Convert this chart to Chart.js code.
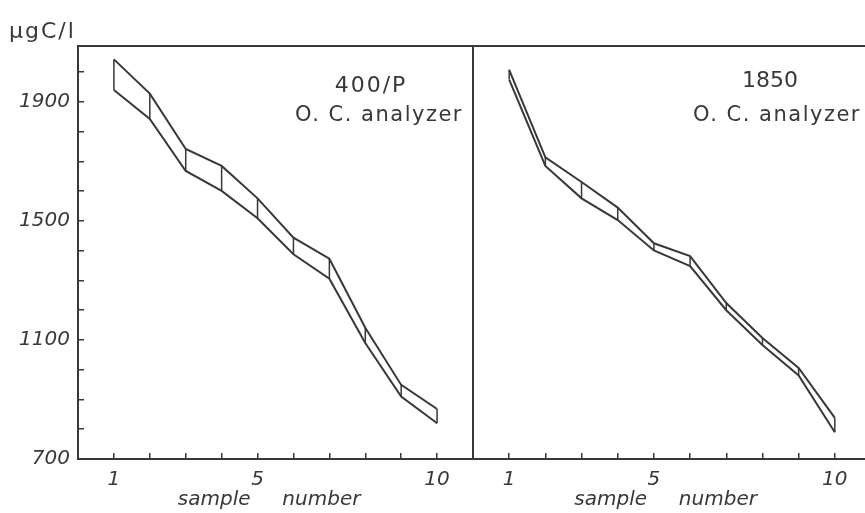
<!DOCTYPE html>
<html>
<head>
<meta charset="utf-8">
<script src="https://cdn.jsdelivr.net/npm/chart.js@4.4.1/dist/chart.umd.min.js"></script>
<style>
  html, body { margin: 0; padding: 0; background: #fff; overflow: hidden; width: 865px; height: 513px; }
  canvas { position: absolute; top: 0; }
  #left { left: 0; }
  #right { left: 463px; }
</style>
</head>
<body>
<canvas id="left" width="475" height="513"></canvas>
<canvas id="right" width="410" height="513"></canvas>
<script>
// sample numbers on the x axis
const samples = [1, 2, 3, 4, 5, 6, 7, 8, 9, 10];

// 400/P O.C. analyzer band (µgC/l)
const leftUpper = [2043, 1928, 1742, 1685, 1576, 1444, 1373, 1141, 949, 868];
const leftLower = [1940, 1843, 1668, 1601, 1509, 1388, 1306, 1090, 910, 820];

// 1850 O.C. analyzer band (µgC/l)
const rightUpper = [2008, 1714, 1631, 1545, 1425, 1382, 1224, 1107, 1006, 838];
const rightLower = [1975, 1685, 1576, 1503, 1401, 1348, 1200, 1083, 981, 790];

const yTickLabels = [700, 1100, 1500, 1900];
const xTickLabels = [1, 5, 10];

const ink = "#383838";
const tickFont = { family: "DejaVu Sans", size: 20, style: "italic" };

function line(values) {
  return samples.map((s, i) => ({ x: s, y: values[i] }));
}

// vertical strokes joining lower and upper value at every sample
function connectors(lo, up) {
  const pts = [];
  samples.forEach((s, i) => {
    pts.push({ x: s, y: lo[i] }, { x: s, y: up[i] }, { x: s, y: null });
  });
  return pts;
}

function bandDatasets(lo, up) {
  const base = { showLine: true, pointRadius: 0, borderColor: ink, tension: 0, spanGaps: false };
  return [
    { ...base, data: line(up), borderWidth: 2 },
    { ...base, data: line(lo), borderWidth: 2 },
    { ...base, data: connectors(lo, up), borderWidth: 1.5 }
  ];
}

// top/right frame lines and the panel labels
const framePlugin = {
  id: "frame",
  afterDraw(chart, args, opts) {
    const { ctx, chartArea } = chart;
    ctx.save();
    ctx.strokeStyle = ink;
    ctx.lineWidth = 2;
    ctx.beginPath();
    ctx.moveTo(chartArea.left, chartArea.top);
    ctx.lineTo(opts.toEdge ? chart.width : chartArea.right, chartArea.top);
    if (opts.right) {
      ctx.moveTo(chartArea.right, chartArea.top);
      ctx.lineTo(chartArea.right, chartArea.bottom);
    }
    ctx.stroke();
    ctx.fillStyle = ink;
    (opts.texts || []).forEach(t => {
      ctx.font = t.font;
      ctx.letterSpacing = t.spacing || "0px";
      ctx.textAlign = t.align || "center";
      ctx.textBaseline = "middle";
      ctx.fillText(t.text, t.x, t.y);
    });
    ctx.restore();
  }
};

function makeChart(id, lo, up, side) {
  const isLeft = side === "left";
  return new Chart(document.getElementById(id), {
    type: "scatter",
    data: { datasets: bandDatasets(lo, up) },
    plugins: [framePlugin],
    options: {
      responsive: false,
      animation: false,
      layout: { padding: { top: 46, right: 2, left: 0, bottom: 0 } },
      plugins: {
        legend: { display: false },
        tooltip: { enabled: false },
        frame: {
          right: isLeft,
          toEdge: !isLeft,
          texts: isLeft ? [
            { text: "\u03bcgC/l", x: 9, y: 32, font: "22px 'DejaVu Sans'", align: "left", spacing: "2px" },
            { text: "400/P", x: 371, y: 86, font: "22px 'DejaVu Sans'", spacing: "2px" },
            { text: "O. C. analyzer", x: 379, y: 116, font: "21px 'DejaVu Sans'", spacing: "1.5px" }
          ] : [
            { text: "1850", x: 307, y: 81, font: "22px 'DejaVu Sans'" },
            { text: "O. C. analyzer", x: 314, y: 116, font: "21px 'DejaVu Sans'", spacing: "1.5px" }
          ]
        }
      },
      scales: {
        x: {
          type: "linear",
          min: 0,
          max: 11,
          afterFit: s => { s.height = 54; s.paddingLeft = 0; s.paddingRight = 0; },
          border: { color: ink, width: 2 },
          grid: {
            drawOnChartArea: false,
            tickLength: -6,
            lineWidth: 1.5,
            color: c => (c.tick && (c.tick.value < 1 || c.tick.value > 10)) ? "rgba(0,0,0,0)" : ink
          },
          ticks: {
            stepSize: 1,
            padding: 15,
            color: ink,
            font: tickFont,
            maxRotation: 0,
            autoSkip: false,
            callback: v => xTickLabels.includes(Math.round(v)) ? String(Math.round(v)) : ""
          },
          title: {
            display: true,
            text: "sample     number  ",
            color: ink,
            font: { family: "DejaVu Sans", size: 20, style: "italic" },
            padding: { top: 0, bottom: 1 }
          }
        },
        y: {
          type: "linear",
          min: 700,
          max: 2088,
          afterFit: s => { s.width = isLeft ? 78 : 10; s.paddingTop = 0; s.paddingBottom = 0; },
          border: { color: ink, width: 2 },
          grid: {
            display: isLeft,
            drawOnChartArea: false,
            tickLength: -6,
            lineWidth: 1.5,
            color: ink
          },
          ticks: {
            display: isLeft,
            stepSize: 100,
            includeBounds: false,
            padding: 14,
            color: ink,
            font: tickFont,
            autoSkip: false,
            callback: v => yTickLabels.includes(Math.round(v)) ? String(Math.round(v)) : ""
          }
        }
      }
    }
  });
}

makeChart("left", leftLower, leftUpper, "left");
makeChart("right", rightLower, rightUpper, "right");
</script>
</body>
</html>
